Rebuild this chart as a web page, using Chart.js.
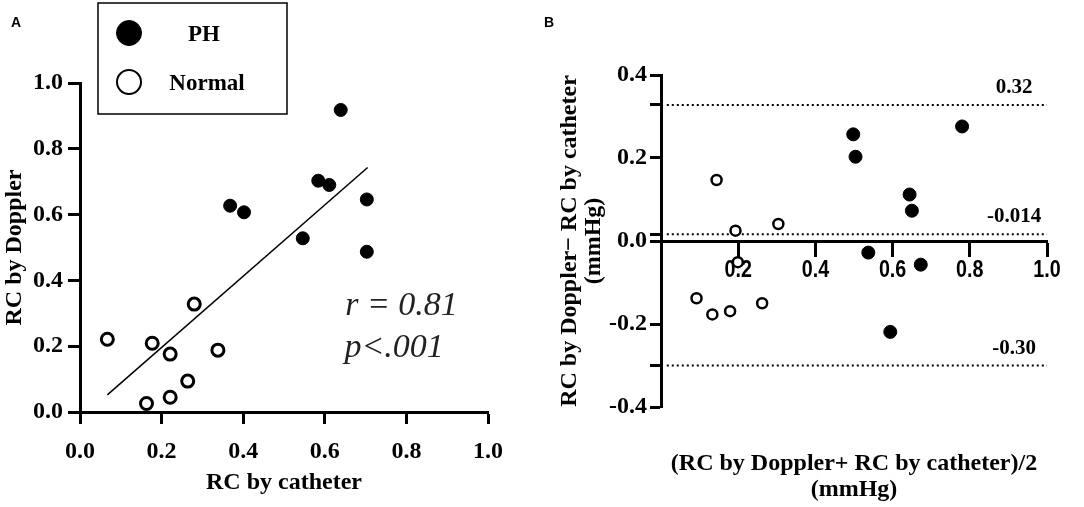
<!DOCTYPE html>
<html>
<head>
<meta charset="utf-8">
<script src="https://cdn.jsdelivr.net/npm/chart.js@4.4.0/dist/chart.umd.min.js"></script>
<style>
  html, body { margin: 0; padding: 0; background: #fff; }
  #wrap { position: relative; width: 1084px; height: 507px; }
  .panel { position: absolute; top: 0; height: 507px; }
  #panelA { left: 0; width: 540px; }
  #panelB { left: 540px; width: 544px; }
</style>
</head>
<body>
<div id="wrap">
  <div class="panel" id="panelA"><canvas id="chartA"></canvas></div>
  <div class="panel" id="panelB"><canvas id="chartB"></canvas></div>
</div>
<script>
// Panel A: RC by catheter (x) vs RC by Doppler (y)
var phCatheter   = [0.639, 0.584, 0.611, 0.703, 0.368, 0.402, 0.546, 0.703];
var phDoppler    = [0.918, 0.703, 0.690, 0.646, 0.627, 0.607, 0.528, 0.487];
var normCatheter = [0.067, 0.177, 0.221, 0.280, 0.338, 0.264, 0.221, 0.163];
var normDoppler  = [0.221, 0.209, 0.176, 0.328, 0.188, 0.094, 0.045, 0.026];
var fitX = [0.067, 0.705];
var fitY = [0.052, 0.743];
var ticksA = [0, 0.2, 0.4, 0.6, 0.8, 1.0];

// Panel B: mean (x) vs difference (y)
var phMean   = [0.498, 0.504, 0.780, 0.644, 0.650, 0.537, 0.673, 0.594];
var phDiff   = [0.257, 0.203, 0.276, 0.112, 0.073, -0.028, -0.057, -0.219];
var normMean = [0.144, 0.193, 0.199, 0.304, 0.092, 0.133, 0.179, 0.262];
var normDiff = [0.147, 0.025, -0.051, 0.041, -0.138, -0.177, -0.169, -0.150];
var limitValues = [0.328, 0.016, -0.300];
var limitLabels = ["0.32", "-0.014", "-0.30"];
var ticksBx = [0, 0.2, 0.4, 0.6, 0.8, 1.0];
var ticksBy = [-0.4, -0.2, 0, 0.2, 0.4];

var serif = "'Liberation Serif', 'Times New Roman', serif";
var sans = "'Liberation Sans', Arial, sans-serif";

function zip(xs, ys) {
  var out = [];
  for (var i = 0; i < xs.length; i++) out.push({ x: xs[i], y: ys[i] });
  return out;
}

function fmt(v) {
  if (Math.abs(v) < 1e-9) return "0.0";
  return v.toFixed(1);
}

function setTicks(values) {
  return function(scale) {
    scale.ticks = values.map(function(v) { return { value: v }; });
  };
}

var axisGrid = { display: true, drawOnChartArea: false, drawTicks: true, tickLength: 12, tickWidth: 3, color: '#000' };
var axisBorder = { display: true, width: 3, color: '#000' };

// free text at data coordinates, the legend box, and condensed x tick labels
var notesPlugin = {
  id: 'notes',
  afterDraw: function(chart, args, opts) {
    var ctx = chart.ctx, xs = chart.scales.x, ys = chart.scales.y;
    ctx.save();
    (opts.texts || []).forEach(function(t) {
      ctx.font = t.font;
      ctx.fillStyle = t.color || '#000';
      ctx.textAlign = t.align || 'left';
      ctx.textBaseline = t.baseline || 'alphabetic';
      var px = t.px != null ? t.px : xs.getPixelForValue(t.x) + (t.dx || 0);
      var py = t.py != null ? t.py : ys.getPixelForValue(t.y) + (t.dy || 0);
      ctx.fillText(t.text, px, py);
    });
    if (opts.narrowTicks) {
      var n = opts.narrowTicks;
      var y0 = ys.getPixelForValue(0) + n.offset;
      ctx.font = n.font;
      ctx.fillStyle = '#000';
      ctx.textAlign = 'center';
      ctx.textBaseline = 'middle';
      xs.ticks.forEach(function(tk) {
        if (Math.abs(tk.value) < 1e-9) return;
        ctx.save();
        ctx.translate(xs.getPixelForValue(tk.value), y0);
        ctx.scale(n.squeeze, 1);
        ctx.fillText(fmt(tk.value), 0, 0);
        ctx.restore();
      });
    }
    if (opts.legendBox) {
      var b = opts.legendBox;
      ctx.lineWidth = 1.5;
      ctx.strokeStyle = '#000';
      ctx.strokeRect(b.x, b.y, b.w, b.h);
      b.items.forEach(function(it) {
        var ds = chart.data.datasets[it.dataset];
        ctx.beginPath();
        ctx.arc(it.cx, it.cy, it.r, 0, Math.PI * 2);
        ctx.fillStyle = ds.backgroundColor;
        ctx.fill();
        ctx.lineWidth = it.lw;
        ctx.strokeStyle = '#000';
        ctx.stroke();
        ctx.font = "bold 23px " + serif;
        ctx.fillStyle = '#000';
        ctx.textAlign = 'center';
        ctx.textBaseline = 'middle';
        ctx.fillText(ds.label, it.tx, it.cy + 2);
      });
    }
    ctx.restore();
  }
};

Chart.register(notesPlugin);

new Chart(document.getElementById('chartA'), {
  type: 'scatter',
  data: {
    datasets: [
      { label: 'PH', data: zip(phCatheter, phDoppler), pointRadius: 6.5, backgroundColor: '#000', borderColor: '#000', borderWidth: 1, clip: false, order: 1 },
      { label: 'Normal', data: zip(normCatheter, normDoppler), pointRadius: 6, backgroundColor: '#fff', borderColor: '#000', borderWidth: 3, clip: false, order: 1 },
      { type: 'line', label: 'fit', data: zip(fitX, fitY), borderColor: '#000', borderWidth: 1.5, pointRadius: 0, fill: false, order: 3 }
    ]
  },
  options: {
    responsive: true,
    maintainAspectRatio: false,
    animation: false,
    layout: { padding: { top: 83, right: 52, bottom: 0, left: 0 } },
    plugins: {
      legend: { display: false },
      tooltip: { enabled: false },
      notes: {
        texts: [
          { text: 'A', px: 11, py: 27, font: "bold 14px " + sans },
          { text: 'r = 0.81', x: 0.65, y: 0.295, font: "italic 34px " + serif, color: '#222' },
          { text: 'p<.001', x: 0.648, y: 0.168, font: "italic 34px " + serif, color: '#222' }
        ],
        legendBox: {
          x: 98, y: 3, w: 189, h: 111,
          items: [
            { dataset: 0, cx: 129, cy: 33, r: 12.5, lw: 1, tx: 204 },
            { dataset: 1, cx: 129, cy: 82, r: 12, lw: 2, tx: 207 }
          ]
        }
      }
    },
    scales: {
      x: {
        type: 'linear', min: 0, max: 1,
        afterBuildTicks: setTicks(ticksA),
        afterFit: function(s) { s.height = 95; },
        grid: axisGrid, border: axisBorder,
        ticks: { color: '#000', padding: 16, font: { family: serif, size: 24, weight: 'bold', lineHeight: 1 }, callback: fmt, maxRotation: 0 },
        title: { display: true, text: 'RC by catheter', color: '#000', padding: { top: 0, bottom: 10 }, font: { family: serif, size: 24, weight: 'bold', lineHeight: 1.2 } }
      },
      y: {
        type: 'linear', min: 0, max: 1,
        afterBuildTicks: setTicks(ticksA),
        afterFit: function(s) { s.width = 80; },
        grid: axisGrid, border: axisBorder,
        ticks: { color: '#000', padding: 5, font: { family: serif, size: 24, weight: 'bold', lineHeight: 1 }, callback: fmt },
        title: { display: true, text: 'RC by Doppler', color: '#000', padding: { top: 0, bottom: 0 }, font: { family: serif, size: 24, weight: 'bold', lineHeight: 1.2 } }
      }
    }
  }
});

var limitSets = limitValues.map(function(v, i) {
  return { type: 'line', label: limitLabels[i], data: [{ x: 0.015, y: v }, { x: 1, y: v }], borderColor: '#000', borderWidth: 2, borderDash: [2, 3], pointRadius: 0, fill: false, order: 3 };
});

var limitTexts = limitValues.map(function(v, i) {
  return { text: limitLabels[i], x: 0.915, y: v, dy: -12, align: 'center', font: "bold 21px " + serif };
});
limitTexts.push({ text: 'B', px: 4, py: 27, font: "bold 14px " + sans });

new Chart(document.getElementById('chartB'), {
  type: 'scatter',
  data: {
    datasets: [
      { label: 'PH', data: zip(phMean, phDiff), pointRadius: 6.5, backgroundColor: '#000', borderColor: '#000', borderWidth: 1, clip: false, order: 1 },
      { label: 'Normal', data: zip(normMean, normDiff), pointRadius: 5, backgroundColor: '#fff', borderColor: '#000', borderWidth: 2.5, clip: false, order: 1 }
    ].concat(limitSets)
  },
  options: {
    responsive: true,
    maintainAspectRatio: false,
    animation: false,
    layout: { padding: { top: 75, right: 37, bottom: 0, left: 0 } },
    plugins: {
      legend: { display: false },
      tooltip: { enabled: false },
      notes: {
        texts: limitTexts,
        narrowTicks: { offset: 29, squeeze: 0.82, font: "bold 24px " + sans }
      }
    },
    scales: {
      x: {
        type: 'linear', min: 0, max: 1,
        position: { y: 0 },
        afterBuildTicks: setTicks(ticksBx),
        grid: Object.assign({}, axisGrid, { tickLength: 14 }), border: axisBorder,
        ticks: { display: false }
      },
      x2: {
        type: 'linear', position: 'bottom', min: 0, max: 1,
        afterFit: function(s) { s.height = 100; },
        grid: { display: false }, border: { display: false },
        ticks: { display: false },
        title: { display: true, text: ['(RC by Doppler+ RC by catheter)/2', '(mmHg)'], color: '#000', padding: { top: 0, bottom: 4 }, font: { family: serif, size: 24, weight: 'bold', lineHeight: 1.1 } }
      },
      y: {
        type: 'linear', min: -0.4, max: 0.4,
        afterBuildTicks: setTicks(ticksBy.concat(limitValues)),
        afterFit: function(s) { s.width = 121; },
        grid: Object.assign({}, axisGrid, { tickLength: 11 }), border: axisBorder,
        ticks: { color: '#000', padding: 3, font: { family: serif, size: 24, weight: 'bold', lineHeight: 1 },
                 callback: function(v) { return ticksBy.indexOf(v) >= 0 ? fmt(v) : ''; } },
        title: { display: true, text: ['RC by Doppler\u2212 RC by catheter', '(mmHg)'], color: '#000', padding: { top: 18, bottom: 0 }, font: { family: serif, size: 24, weight: 'bold', lineHeight: 1.0 } }
      }
    }
  }
});
</script>
</body>
</html>
